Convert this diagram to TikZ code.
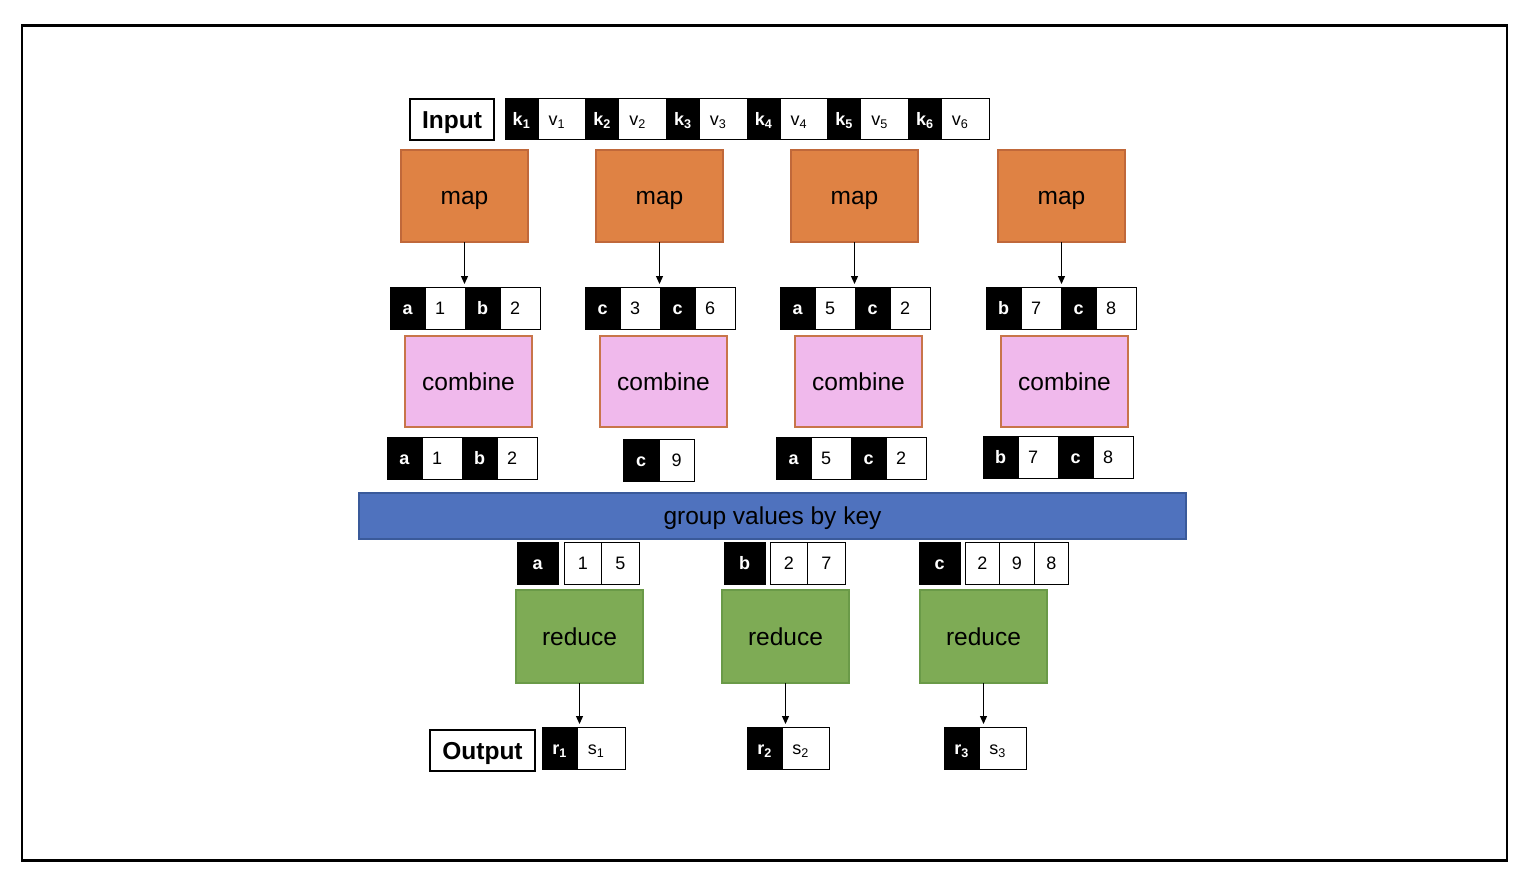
\documentclass[tikz,border=0pt]{standalone}
\usepackage{fontspec}
\setmainfont{Liberation Sans}
\usetikzlibrary{arrows.meta}
\definecolor{mapfill}{HTML}{DF8244}
\definecolor{mapdraw}{HTML}{C0683A}
\definecolor{combfill}{HTML}{F0B9EC}
\definecolor{combdraw}{HTML}{C8754A}
\definecolor{grpfill}{HTML}{4F72BE}
\definecolor{grpdraw}{HTML}{3A5A9A}
\definecolor{redfill}{HTML}{7EAB55}
\definecolor{reddraw}{HTML}{6A9A48}
\newcommand{\kvrow}[7]{%
  \node[kcell,minimum width=35pt] (#1k1) at (#2,#3) {#4};
  \node[vcell,minimum width=40pt] (#1v1) at (#1k1.north east) {#5};
  \node[kcell,minimum width=35pt] (#1k2) at (#1v1.north east) {#6};
  \node[vcell,minimum width=40pt] (#1v2) at (#1k2.north east) {#7};
}
\begin{document}
\begin{tikzpicture}[x=1pt,y=-1pt,
  bigtext/.style={font=\fontsize{24.5}{28}\selectfont, text height=17.6pt, text depth=0pt},
  procbox/.style={draw, line width=1.2pt, anchor=north west, inner sep=0pt, outer sep=0pt, bigtext, minimum width=127pt},
  mapbox/.style={procbox, fill=mapfill, draw=mapdraw, minimum height=92pt},
  combbox/.style={procbox, fill=combfill, draw=combdraw, minimum height=91pt},
  redbox/.style={procbox, fill=redfill, draw=reddraw, minimum height=93pt},
  cellbase/.style={draw=black, line width=1pt, anchor=north west, inner sep=0pt, outer sep=0pt, minimum height=42pt, text height=13pt, text depth=0pt},
  kcell/.style={cellbase, fill=black, text=white, font=\fontsize{18}{20}\selectfont\bfseries},
  vcellc/.style={cellbase, fill=white, text=black, font=\fontsize{18}{20}\selectfont},
  vcell/.style={vcellc, execute at begin node={\hspace*{-10pt}}},
  labelbox/.style={draw=black, line width=1.5pt, anchor=north west, inner sep=0pt, outer sep=0pt, font=\fontsize{24.5}{28}\selectfont\bfseries, text height=17.6pt, text depth=0pt},
  arr/.style={-{Triangle[length=8pt,width=7pt]}, line width=1.2pt, shorten >=3pt}
]
\useasboundingbox (0,0) rectangle (1536,880);
\draw[line width=2.5pt] (22,25.5) rectangle (1507,860.5);

% Input
\node[labelbox, minimum width=84pt, minimum height=41pt] (input) at (410,99) {Input};
\foreach \i in {1,...,6} {
  \pgfmathsetmacro{\xx}{505+80.67*(\i-1)}
  \node[kcell, minimum width=33pt, minimum height=41pt] (ik\i) at (\xx,99) {k\textsubscript{\i}};
  \node[vcell, minimum width=47.67pt, minimum height=41pt] (iv\i) at (ik\i.north east) {v\textsubscript{\i}};
}

% map boxes
\node[mapbox] (map1) at (401,150) {map};
\node[mapbox] (map2) at (596,150) {map};
\node[mapbox] (map3) at (791,150) {map};
\node[mapbox] (map4) at (998,150) {map};

% map output rows
\kvrow{ma}{390}{287}{a}{1}{b}{2}
\kvrow{mb}{585}{287}{c}{3}{c}{6}
\kvrow{mc}{780}{287}{a}{5}{c}{2}
\kvrow{md}{986}{287}{b}{7}{c}{8}

\draw[arr] (map1.south) -- (map1.south |- mak1.north);
\draw[arr] (map2.south) -- (map2.south |- mbk1.north);
\draw[arr] (map3.south) -- (map3.south |- mck1.north);
\draw[arr] (map4.south) -- (map4.south |- mdk1.north);

% combine boxes
\node[combbox] (comb1) at (405,336) {combine};
\node[combbox] (comb2) at (600,336) {combine};
\node[combbox] (comb3) at (795,336) {combine};
\node[combbox] (comb4) at (1001,336) {combine};

% combine output rows
\kvrow{ca}{387}{437}{a}{1}{b}{2}
\node[kcell, minimum width=36pt] (cbk1) at (623,439) {c};
\node[vcellc, minimum width=35pt] (cbv1) at (cbk1.north east) {9};
\kvrow{cc}{776}{437}{a}{5}{c}{2}
\kvrow{cd}{983}{436}{b}{7}{c}{8}

% group bar
\node[draw=grpdraw, fill=grpfill, line width=1.2pt, anchor=north west, inner sep=0pt, outer sep=0pt,
      minimum width=827pt, minimum height=46pt, bigtext] (group) at (359,493) {group values by key};

% reduce inputs
\node[kcell, minimum width=41pt] (ra) at (517,542) {a};
\node[vcellc, minimum width=37.5pt] (ra1) at (564,542) {1};
\node[vcellc, minimum width=37.5pt] (ra2) at (ra1.north east) {5};
\node[kcell, minimum width=41pt] (rb) at (724,542) {b};
\node[vcellc, minimum width=37.5pt] (rb1) at (770,542) {2};
\node[vcellc, minimum width=37.5pt] (rb2) at (rb1.north east) {7};
\node[kcell, minimum width=41pt] (rc) at (919,542) {c};
\node[vcellc, minimum width=34.5pt] (rc1) at (965,542) {2};
\node[vcellc, minimum width=34.5pt] (rc2) at (rc1.north east) {9};
\node[vcellc, minimum width=34.5pt] (rc3) at (rc2.north east) {8};

% reduce boxes
\node[redbox] (red1) at (516,590) {reduce};
\node[redbox] (red2) at (722,590) {reduce};
\node[redbox] (red3) at (920,590) {reduce};

% output
\node[labelbox, minimum width=105pt, minimum height=41pt] (output) at (430,730) {Output};
\node[kcell, minimum width=35pt] (or1) at (542,727) {r\textsubscript{1}};
\node[vcell, minimum width=48pt] (os1) at (or1.north east) {s\textsubscript{1}};
\node[kcell, minimum width=35pt] (or2) at (747,727) {r\textsubscript{2}};
\node[vcell, minimum width=47pt] (os2) at (or2.north east) {s\textsubscript{2}};
\node[kcell, minimum width=35pt] (or3) at (944,727) {r\textsubscript{3}};
\node[vcell, minimum width=47pt] (os3) at (or3.north east) {s\textsubscript{3}};

\draw[arr] (red1.south) -- (red1.south |- or1.north);
\draw[arr] (red2.south) -- (red2.south |- or2.north);
\draw[arr] (red3.south) -- (red3.south |- or3.north);
\end{tikzpicture}
\end{document}
